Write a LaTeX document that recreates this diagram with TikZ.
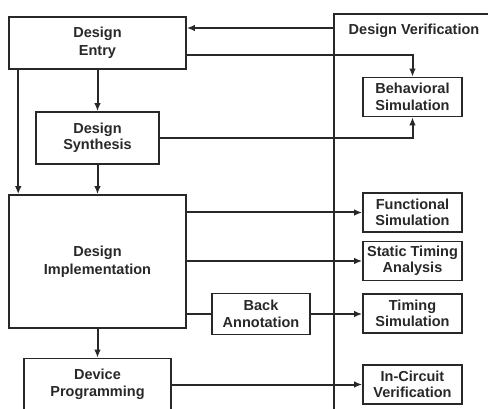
\documentclass[tikz,border=0pt]{standalone}
\usepackage{fontspec}
\setmainfont{Liberation Sans}
\usepackage{tikz}
\usetikzlibrary{arrows.meta,calc,positioning}
\definecolor{tinta}{RGB}{40, 40, 40}
\tikzstyle{edge}  =[line width=2pt, draw=tinta,
                    >={Latex[length=8pt,width=6.5pt]}]
\tikzstyle{flowbox}=[rectangle, draw=tinta, line width=1.6pt,
                    align=center, inner sep=1pt, text=tinta]
\tikzstyle{vbox}  =[flowbox, minimum width=99pt, minimum height=39pt]

\begin{document}
\begin{tikzpicture}[x=1pt,y=-1pt,
    font=\fontsize{14.5}{16.5}\selectfont\bfseries]

    \useasboundingbox (0,0) rectangle (488,409);

    % verification column
    \draw [edge] (334,412) -- (334,14) -- (491,14);
    \draw (414,31) node(dv)[text=tinta]{Design Verification};
    \coordinate (fb) at (334,28);

    % design flow
    \draw (97.5,43) node(entry)[flowbox,minimum width=177pt,
        minimum height=52pt]{Design\\[1.5pt]Entry};
    \draw (97.5,138) node(synth)[flowbox,minimum width=123pt,
        minimum height=52pt]{Design\\Synthesis};
    \draw (97.5,261.5) node(impl)[flowbox,minimum width=177pt,
        minimum height=133pt]{Design\\[1.5pt]Implementation};
    \draw (97.5,384.5) node(prog)[flowbox,minimum width=147pt,
        minimum height=52pt]{Device\\Programming};
    \draw (261,314) node(back)[flowbox,minimum width=98pt,
        minimum height=41pt]{Back\\Annotation};

    % simulation boxes
    \foreach \y/\n/\t in {97/behav/{Behavioral\\Simulation},
        212.5/func/{Functional\\Simulation},
        261/stat/{Static Timing\\Analysis},
        313.5/timing/{Timing\\Simulation},
        384.5/circuit/{In-Circuit\\Verification}}
        \draw (412.5,\y) node(\n)[vbox]{\t};

    % connections
    \draw [edge,->] (fb) -- (fb -| entry.east);
    \draw [edge,->] ([yshift=-12pt]entry.east) -| (behav.north);
    \draw [edge,->] (synth.east) -| (behav.south);
    \draw [edge,->] ([xshift=10pt]entry.south west)
        -- ([xshift=10pt]impl.north west);
    \foreach \i/\j in {entry/synth,synth/impl,impl/prog}
        \draw [edge,->] (\i.south) -- (\j.north);
    \foreach \n in {func,stat}
        \draw [edge,->] (impl.east |- \n) -- (\n.west);
    \draw [edge] (impl.east |- back) -- (back.west);
    \draw [edge,->] (back.east) -- (back.east -| timing.west);
    \draw [edge,->] (prog.east) -- (circuit.west);

\end{tikzpicture}
\end{document}
